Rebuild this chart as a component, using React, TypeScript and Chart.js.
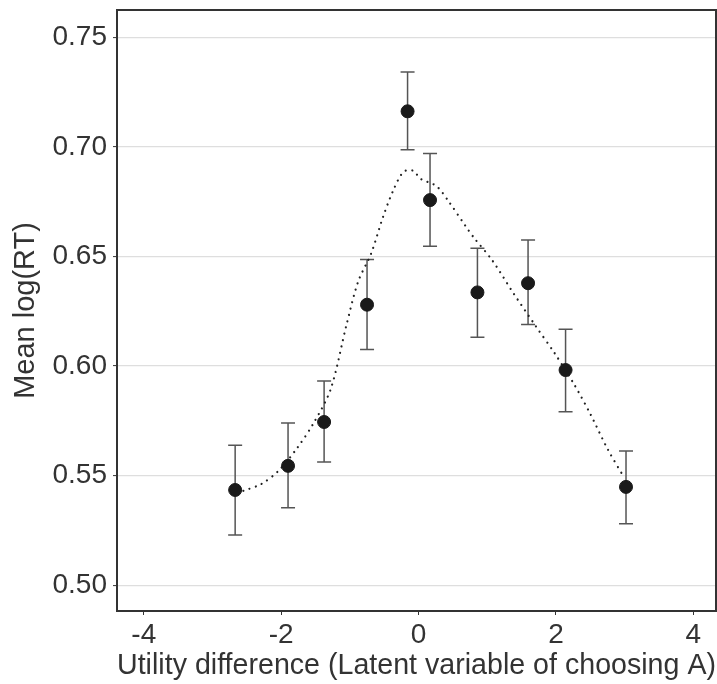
import React, { useEffect, useRef } from "react";
import { Chart, registerables } from "chart.js";

Chart.register(...registerables);

const pointX = [-2.67, -1.9, -1.375, -0.75, -0.16, 0.167, 0.857, 1.594, 2.14, 3.02];
const pointMean = [0.5435, 0.5545, 0.5745, 0.628, 0.7162, 0.6757, 0.6336, 0.6378, 0.5982, 0.5449];
const pointUpper = [0.5639, 0.574, 0.5932, 0.6486, 0.7341, 0.6969, 0.6537, 0.6575, 0.6168, 0.5613];
const pointLower = [0.523, 0.5354, 0.5563, 0.6076, 0.6987, 0.6546, 0.6132, 0.619, 0.5792, 0.5281];

const curveX = [-2.55, -2.29, -2.04, -1.77, -1.53, -1.28, -1.05, -0.88, -0.69, -0.52, -0.37, -0.22, -0.08, 0.03, 0.26, 0.44, 0.69, 0.805, 1.076, 1.38, 1.7, 1.985, 2.27, 2.5, 2.75, 2.99];
const curveY = [0.5431, 0.5462, 0.5522, 0.5625, 0.5739, 0.5894, 0.6187, 0.6385, 0.6514, 0.6678, 0.68, 0.6886, 0.6891, 0.6854, 0.6821, 0.675, 0.6636, 0.6586, 0.6481, 0.6333, 0.6185, 0.6057, 0.5914, 0.5782, 0.5623, 0.5493];

const xTicks = [-4, -2, 0, 2, 4];
const yTicks = [0.5, 0.55, 0.6, 0.65, 0.7, 0.75];

const FONT = "'Liberation Sans', Arial, sans-serif";
const TEXT = "#333333";

const errorBarPlugin = {
  id: "errorBars",
  beforeDatasetsDraw(chart: any) {
    const { ctx, scales } = chart;
    const xs = scales.x;
    const ys = scales.y;
    ctx.save();
    ctx.strokeStyle = "#555555";
    ctx.lineWidth = 1.5;
    for (let i = 0; i < pointX.length; i++) {
      const px = xs.getPixelForValue(pointX[i]);
      const pu = ys.getPixelForValue(pointUpper[i]);
      const pl = ys.getPixelForValue(pointLower[i]);
      ctx.beginPath();
      ctx.moveTo(px, pu);
      ctx.lineTo(px, pl);
      ctx.moveTo(px - 7, pu);
      ctx.lineTo(px + 7, pu);
      ctx.moveTo(px - 7, pl);
      ctx.lineTo(px + 7, pl);
      ctx.stroke();
    }
    ctx.restore();
  },
};

const borderPlugin = {
  id: "panelBorder",
  afterDraw(chart: any) {
    const { ctx, chartArea } = chart;
    ctx.save();
    ctx.strokeStyle = "#333333";
    ctx.lineWidth = 2;
    ctx.strokeRect(chartArea.left, chartArea.top, chartArea.right - chartArea.left, chartArea.bottom - chartArea.top);
    ctx.restore();
  },
};

const zeroPad = (s: any) => {
  s.paddingTop = 0;
  s.paddingBottom = 0;
  s.paddingLeft = 0;
  s.paddingRight = 0;
};

export default function App() {
  const ref = useRef<HTMLCanvasElement>(null);
  useEffect(() => {
    if (!ref.current) return;
    const chart = new Chart(ref.current, {
      type: "scatter",
      data: {
        datasets: [
          {
            type: "scatter",
            data: pointX.map((x, i) => ({ x, y: pointMean[i] })),
            backgroundColor: "#1a1a1a",
            borderColor: "#1a1a1a",
            pointRadius: 6.5,
            order: 1,
          } as any,
          {
            type: "line",
            data: curveX.map((x, i) => ({ x, y: curveY[i] })),
            borderColor: "#222222",
            borderWidth: 2.2,
            borderDash: [0.01, 6.5],
            borderCapStyle: "round",
            pointRadius: 0,
            tension: 0.3,
            fill: false,
            order: 2,
          } as any,
        ],
      },
      options: {
        responsive: false,
        animation: false,
        layout: { autoPadding: false, padding: { top: 10, right: 1, left: 0, bottom: 0 } },
        plugins: { legend: { display: false }, tooltip: { enabled: false } },
        scales: {
          x: {
            type: "linear",
            min: -4.39,
            max: 4.33,
            afterBuildTicks: (s: any) => {
              s.ticks = xTicks.map((v) => ({ value: v }));
            },
            afterFit: (s: any) => {
              s.height = 73;
              zeroPad(s);
            },
            grid: { drawOnChartArea: false, drawTicks: true, tickLength: 4, tickColor: "#333333", tickWidth: 1 },
            border: { display: false },
            ticks: {
              color: TEXT,
              font: { family: FONT, size: 28 },
              padding: 3,
              maxRotation: 0,
              autoSkip: false,
              callback: (v: any) => String(v),
            },
            title: {
              display: true,
              text: "Utility difference (Latent variable of choosing A)",
              color: TEXT,
              font: { family: FONT, size: 29 },
              padding: { top: 0, bottom: 1 },
            },
          },
          y: {
            type: "linear",
            min: 0.4883,
            max: 0.7624,
            afterBuildTicks: (s: any) => {
              s.ticks = yTicks.map((v) => ({ value: v }));
            },
            afterFit: (s: any) => {
              s.width = 117;
              zeroPad(s);
            },
            grid: { color: "#dedede", lineWidth: 1.2, drawTicks: true, tickLength: 4, tickColor: "#333333", tickWidth: 1 },
            border: { display: false },
            ticks: {
              color: TEXT,
              font: { family: FONT, size: 28 },
              padding: 6,
              autoSkip: false,
              callback: (v: any) => Number(v).toFixed(2),
            },
            title: {
              display: true,
              text: "Mean log(RT)",
              color: TEXT,
              font: { family: FONT, size: 29 },
              padding: { top: 9, bottom: 0 },
            },
          },
        },
      },
      plugins: [errorBarPlugin, borderPlugin],
    } as any);
    return () => chart.destroy();
  }, []);
  return (
    <div style={{ position: "absolute", left: 0, top: 0, width: 717, height: 684, background: "#ffffff" }}>
      <canvas ref={ref} width={717} height={684} style={{ display: "block", width: 717, height: 684 }} />
    </div>
  );
}
